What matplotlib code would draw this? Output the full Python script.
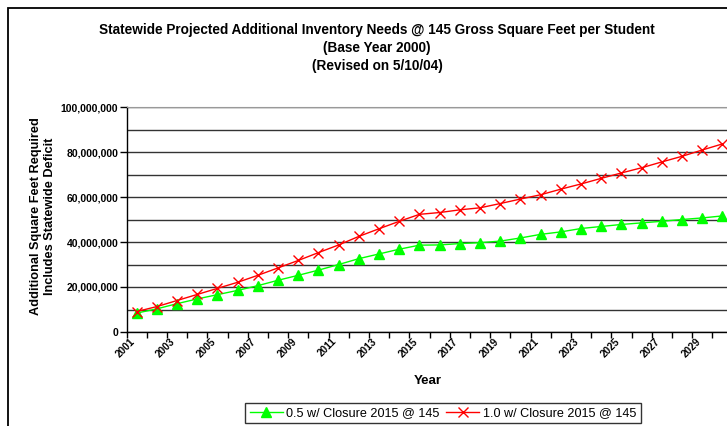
import matplotlib
matplotlib.use("Agg")
import matplotlib.pyplot as plt
from matplotlib.patches import Rectangle
from matplotlib.ticker import FuncFormatter, MultipleLocator
from matplotlib.transforms import ScaledTranslation

plt.rcParams["font.family"] = ["Liberation Sans", "DejaVu Sans"]

# Data
years = list(range(2001, 2031))
half_closure = [8.4, 10.3, 12.6, 14.7, 16.6, 18.5, 20.6, 23.0, 25.2, 27.5,
                30.0, 32.6, 34.7, 36.8, 38.6, 38.7, 39.3, 39.7, 40.4, 41.8,
                43.4, 44.5, 46.0, 46.9, 47.8, 48.5, 49.2, 50.0, 50.7, 51.6]
full_closure = [9.1, 11.3, 14.0, 16.7, 19.4, 22.1, 25.2, 28.5, 31.8, 35.3,
                38.7, 42.5, 45.9, 49.2, 52.3, 53.1, 54.3, 55.2, 57.1, 59.1,
                61.0, 63.5, 65.8, 68.3, 70.7, 73.0, 75.6, 78.1, 80.9, 83.6]
half_closure = [v * 1e6 for v in half_closure]
full_closure = [v * 1e6 for v in full_closure]
series_labels = ["0.5 w/ Closure 2015 @ 145", "1.0 w/ Closure 2015 @ 145"]

W, H = 727, 426
fig = plt.figure(figsize=(W / 100, H / 100), dpi=100)

# axes in pixel layout (plot area runs past right edge, like the reference)
left, right, top, bottom = 126.6, 732.6, 107, 332
ax = fig.add_axes([left / W, 1 - bottom / H, (right - left) / W, (bottom - top) / H])

x = list(range(len(years)))
ax.plot(x, half_closure, color="#00ff00", lw=1.0, marker="^", markersize=7.5,
        markeredgecolor="#00ff00", markerfacecolor="#00ff00", label=series_labels[0], zorder=3)
ax.plot(x, full_closure, color="#ff0000", lw=1.0, marker="x", markersize=7,
        markeredgewidth=1.0, label=series_labels[1], zorder=4)

ax.set_xlim(-0.5, len(years) - 0.5)
ax.set_ylim(0, 100e6)

# y axis: labels every 20M, gridlines every 10M
ax.yaxis.set_major_locator(MultipleLocator(20e6))
ax.yaxis.set_minor_locator(MultipleLocator(10e6))
ax.yaxis.set_major_formatter(FuncFormatter(lambda v, p: f"{int(v):,}"))
ax.tick_params(axis="y", which="major", length=5, width=1, pad=1, labelsize=7.5, direction="out")
ax.tick_params(axis="y", which="minor", length=0)
for lbl in ax.get_yticklabels():
    lbl.set_fontweight("bold")
ax.grid(True, axis="y", which="both", color="#333333", lw=1.0)
ax.set_axisbelow(True)

# x axis: tick marks between categories, labels on every other year
ax.set_xticks([i - 0.5 for i in range(len(years) + 1)])
ax.set_xticklabels([])
ax.tick_params(axis="x", which="major", length=4, width=1, direction="out")
lab_pos = x[::2]
ax.set_xticks(lab_pos, [str(years[i]) for i in lab_pos], minor=True)
ax.tick_params(axis="x", which="minor", length=0, pad=3)
shift = ScaledTranslation(-7 / 100, 0, fig.dpi_scale_trans)
for lbl in ax.get_xticklabels(minor=True):
    lbl.set_rotation(45)
    lbl.set_ha("right")
    lbl.set_va("top")
    lbl.set_rotation_mode("anchor")
    lbl.set_fontsize(7.2)
    lbl.set_fontweight("bold")
    lbl.set_transform(lbl.get_transform() + shift)

for side in ["left", "bottom"]:
    ax.spines[side].set_color("black")
    ax.spines[side].set_linewidth(1.0)
ax.spines["top"].set_color("#999999")
ax.spines["right"].set_visible(False)

# titles and axis labels
fig.text(377 / W, 1 - 48 / H,
         "Statewide Projected Additional Inventory Needs @ 145 Gross Square Feet per Student\n"
         "(Base Year 2000)\n(Revised on 5/10/04)",
         ha="center", va="center", fontsize=9.8, fontweight="bold", linespacing=1.35)
fig.text(43 / W, 1 - 216 / H, "Additional Square Feet Required\nIncludes Statewide Deficit",
         ha="center", va="center", rotation=90, fontsize=9.2, fontweight="bold", linespacing=1.3)
fig.text(428 / W, 1 - 381 / H, "Year", ha="center", va="center", fontsize=9.5, fontweight="bold")

leg = fig.legend(loc="center", bbox_to_anchor=(443 / W, 1 - 413 / H), ncol=2,
                 fontsize=9.1, frameon=True, fancybox=False, edgecolor="black",
                 handlelength=2.6, handletextpad=0.3, columnspacing=0.5,
                 borderpad=0.35, borderaxespad=0)
leg.get_frame().set_linewidth(1.0)

# chart outer border
fig.patches.append(Rectangle((8 / W, -0.1), 1.2, 1.1 - 8 / H, transform=fig.transFigure,
                             fill=False, edgecolor="black", lw=1.3))

fig.savefig("out.png", dpi=100)
